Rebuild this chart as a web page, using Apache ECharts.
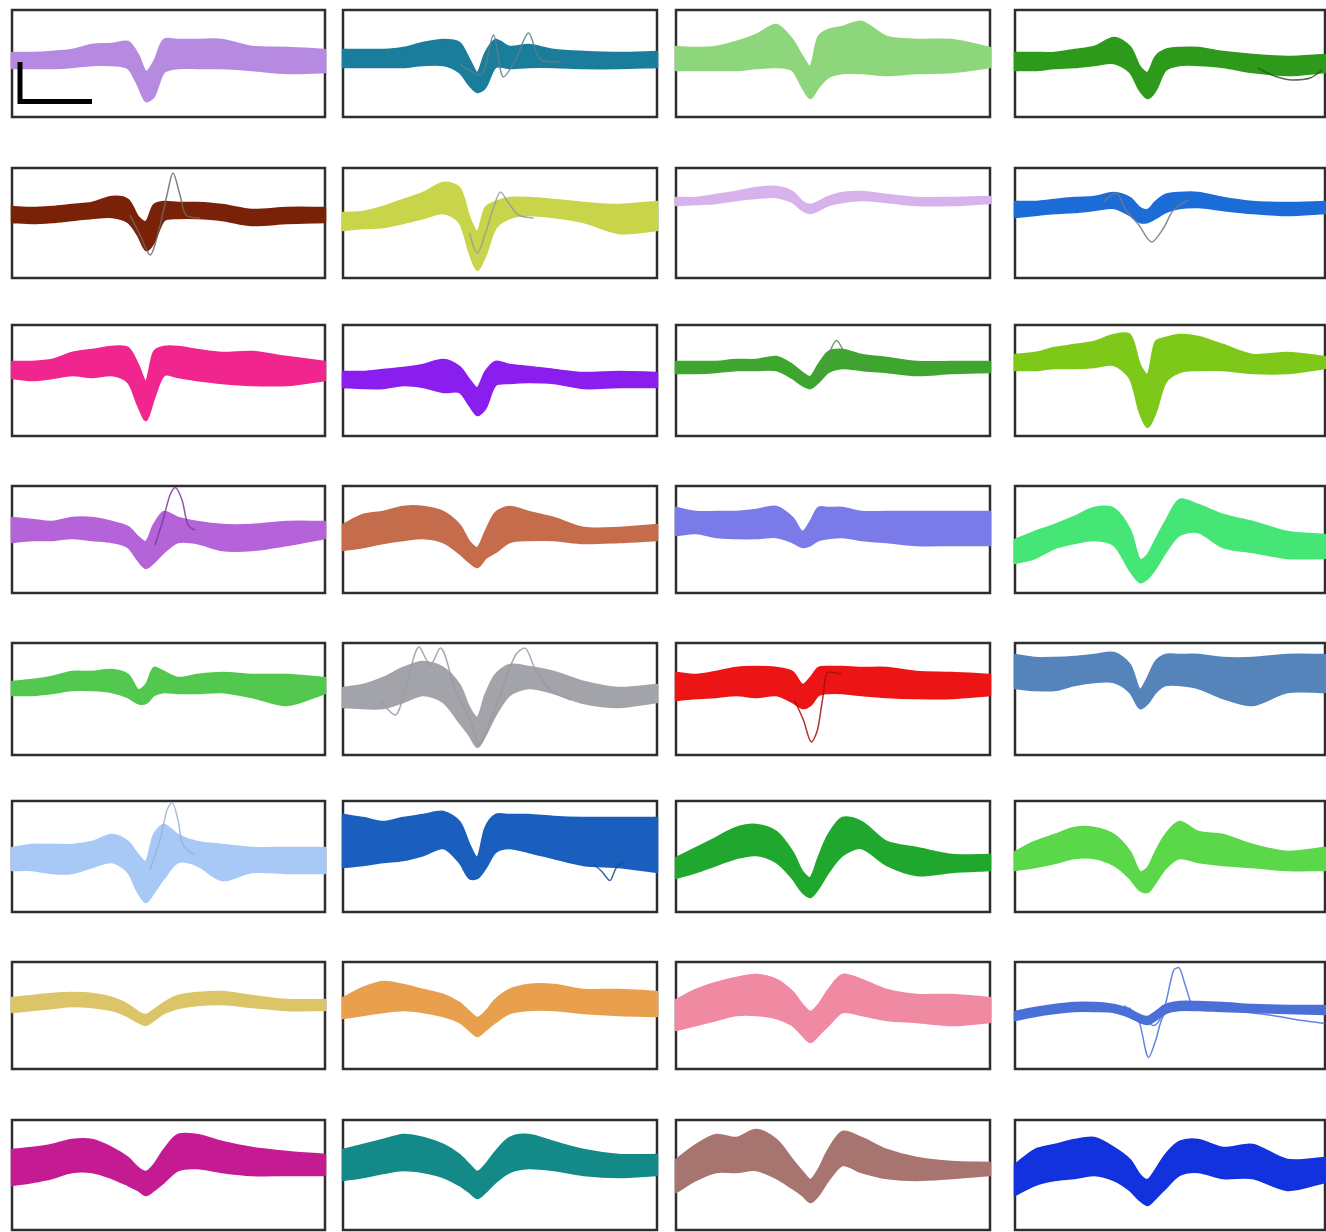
<!DOCTYPE html>
<html>
<head>
<meta charset="utf-8">
<script src="https://cdn.jsdelivr.net/npm/echarts/dist/echarts.min.js"></script>
<style>html,body{margin:0;padding:0;background:#fff}#chart{width:1326px;height:1232px}</style>
</head>
<body>
<div id="chart"></div>
<script>
// Sample times (relative units across each waveform window)
const sampleTimes = [0,20,40,60,80,100,116,126,134,142,152,166,185,210,240,275,313];

const panelColors = [
  "#b58ae0","#1b7d9c","#8ed67c","#2e9a1b",
  "#7a2208","#c8d54a","#d8b2ec","#1c6cd8",
  "#f0268e","#8a1eee","#3ea62e","#7dc818",
  "#b463d8","#c46c4c","#7a7ae8","#46e676",
  "#52c84e","#a3a3aa","#ec1414","#5584bb",
  "#a8c8f6","#1a5ebe","#20a82e","#5ad84a",
  "#dcc468","#e8a04e","#f08aa2","#4a70d8",
  "#c41a92","#148a88","#a87470","#1232de"
];

// Upper / lower envelopes of the overlaid waveforms (amplitude units)
const upper01 = [10.5,10.5,11.5,13.5,18.5,19.5,21.5,8.5,-8.5,1.5,23.5,23.5,23.5,23.5,16.5,15.5,13.5];
const lower01 = [-4.5,-4.5,-4.5,-3.5,-1.5,-1.5,-4.5,-21.5,-37.5,-32.5,-8.5,-4.5,-4.5,-4.5,-6.5,-9.5,-8.5];
const upper02 = [13.5,13.5,13.5,15.5,20.5,23.5,20.5,3.5,-9.5,10.5,23.5,16.5,18.5,13.5,11.5,10.5,11.5];
const lower02 = [-3.5,-3.5,-3.5,-3.5,-1.5,-1.5,-8.5,-21.5,-28.5,-23.5,-3.5,-4.5,-3.5,-3.5,-4.5,-4.5,-3.5];
const upper03 = [16.5,15.5,16.5,21.5,28.5,38.5,23.5,6.5,-3.5,26.5,33.5,36.5,41.5,26.5,23.5,23.5,15.5];
const lower03 = [-6.5,-6.5,-6.5,-6.5,-4.5,-3.5,-6.5,-23.5,-34.5,-23.5,-13.5,-9.5,-9.5,-11.5,-9.5,-8.5,-3.5];
const upper04 = [10.5,10.5,10.5,13.5,16.5,25.5,16.5,-3.5,-9.5,6.5,13.5,15.5,15.5,11.5,8.5,6.5,8.5];
const lower04 = [-6.5,-6.5,-4.5,-3.5,-1.5,0.5,-8.5,-26.5,-34.5,-26.5,-6.5,-1.5,-1.5,-3.5,-8.5,-11.5,-8.5];
const upper05 = [16,15,16,18,20,26,23,6,1,18,21,20,20,18,13,15,15];
const lower05 = [1,0,1,3,5,6,1,-12,-27,-19,3,5,5,3,-2,0,1];
const upper06 = [10,11,16,23,30,40,35,5,-9,15,21,25,25,23,20,18,21];
const lower06 = [-7,-5,-4,0,5,10,1,-29,-47,-32,-5,5,8,6,1,-10,-7];
const upper07 = [25,25,28,31,35,36,31,21,18,21,26,30,31,28,25,25,26];
const lower07 = [18,19,20,23,25,26,21,13,10,13,18,21,23,21,18,18,20];
const upper08 = [21,21,23,25,26,30,25,15,13,21,28,30,30,25,21,20,21];
const lower08 = [6,8,10,11,13,15,8,1,1,5,11,15,16,13,10,8,10];
const upper09 = [18.5,18.5,20.5,27.5,30.5,33.5,32.5,15.5,-1.5,28.5,33.5,33.5,30.5,27.5,28.5,23.5,18.5];
const lower09 = [2.5,0.5,2.5,5.5,3.5,5.5,-1.5,-24.5,-39.5,-17.5,5.5,3.5,0.5,-2.5,-4.5,-4.5,0.5];
const upper10 = [8.5,8.5,10.5,12.5,15.5,20.5,13.5,0.5,-7.5,8.5,18.5,15.5,13.5,10.5,7.5,8.5,7.5];
const lower10 = [-6.5,-7.5,-7.5,-4.5,-6.5,-11.5,-11.5,-24.5,-34.5,-27.5,-4.5,-2.5,-1.5,-2.5,-7.5,-6.5,-6.5];
const upper11 = [18.5,18.5,18.5,20.5,20.5,23.5,15.5,7.5,3.5,15.5,28.5,30.5,25.5,22.5,18.5,18.5,18.5];
const lower11 = [7.5,7.5,8.5,10.5,10.5,10.5,2.5,-4.5,-7.5,-1.5,8.5,12.5,10.5,8.5,5.5,7.5,8.5];
const upper12 = [25.5,27.5,32.5,35.5,38.5,45.5,45.5,15.5,5.5,38.5,42.5,45.5,43.5,35.5,25.5,27.5,23.5];
const lower12 = [10.5,10.5,12.5,12.5,13.5,15.5,2.5,-31.5,-46.5,-31.5,-1.5,8.5,10.5,10.5,7.5,7.5,12.5];
const upper13 = [21.5,19.5,17.5,21.5,21.5,17.5,12.5,2.5,-2.5,14.5,27.5,21.5,17.5,14.5,14.5,17.5,17.5];
const lower13 = [-2.5,-0.5,-0.5,1.5,-0.5,-2.5,-7.5,-20.5,-28.5,-22.5,-12.5,-2.5,-3.5,-10.5,-10.5,-5.5,1.5];
const upper14 = [14.5,24.5,27.5,32.5,32.5,27.5,14.5,-2.5,-8.5,7.5,26.5,32.5,27.5,21.5,11.5,11.5,14.5];
const lower14 = [-10.5,-7.5,-3.5,-0.5,1.5,-2.5,-13.5,-22.5,-27.5,-18.5,-12.5,-2.5,-0.5,-0.5,-3.5,-2.5,-0.5];
const upper15 = [31.5,27.5,27.5,27.5,29.5,32.5,21.5,7.5,17.5,31.5,31.5,31.5,27.5,27.5,27.5,27.5,27.5];
const lower15 = [4.5,6.5,2.5,1.5,1.5,2.5,-2.5,-7.5,-5.5,-0.5,1.5,2.5,-0.5,-2.5,-5.5,-5.5,-5.5];
const upper16 = [-0.5,7.5,14.5,22.5,31.5,30.5,9.5,-20.5,-15.5,-0.5,17.5,39.5,34.5,24.5,17.5,7.5,4.5];
const lower16 = [-23.5,-18.5,-8.5,-3.5,-0.5,-5.5,-30.5,-42.5,-38.5,-28.5,-12.5,4.5,7.5,-7.5,-12.5,-18.5,-18.5];
const upper17 = [17,19,22,27,27,29,24,9,14,31,27,21,24,26,24,24,21];
const lower17 = [4,4,6,9,9,7,2,-4,-4,4,7,6,6,7,2,-6,6];
const upper18 = [11,14,21,31,37,31,14,-9,-19,4,24,34,32,27,17,11,14];
const lower18 = [-8,-9,-9,-3,4,-3,-23,-36,-48,-36,-16,4,11,6,-4,-8,-3];
const upper19 = [26,24,27,31,32,31,27,14,21,31,32,32,31,31,27,26,24];
const lower19 = [-1,1,2,4,2,4,-3,-9,-6,4,6,6,4,2,1,1,4];
const upper20 = [44,41,41,42,44,46,34,9,21,37,44,44,44,41,41,44,44];
const lower20 = [11,9,9,14,17,17,7,-9,-4,7,14,14,11,1,-6,7,7];
const upper21 = [8.5,11.5,11.5,11.5,14.5,21.5,14.5,1.5,-5.5,21.5,31.5,21.5,14.5,11.5,8.5,8.5,8.5];
const lower21 = [-13.5,-13.5,-16.5,-16.5,-10.5,-5.5,-15.5,-35.5,-45.5,-35.5,-21.5,-5.5,-8.5,-23.5,-15.5,-16.5,-16.5];
const upper22 = [41.5,38.5,34.5,38.5,41.5,44.5,34.5,11.5,-1.5,28.5,41.5,41.5,41.5,39.5,38.5,38.5,38.5];
const lower22 = [-10.5,-8.5,-5.5,-3.5,1.5,8.5,-5.5,-21.5,-21.5,-11.5,4.5,8.5,4.5,-1.5,-8.5,-10.5,-15.5];
const upper23 = [-1.5,8.5,18.5,28.5,31.5,24.5,4.5,-15.5,-21.5,-1.5,21.5,38.5,34.5,14.5,8.5,1.5,1.5];
const lower23 = [-21.5,-15.5,-8.5,-1.5,1.5,-5.5,-21.5,-35.5,-40.5,-31.5,-15.5,1.5,8.5,-8.5,-18.5,-15.5,-13.5];
const upper24 = [4.5,14.5,21.5,28.5,28.5,21.5,4.5,-15.5,-11.5,4.5,21.5,34.5,24.5,21.5,11.5,4.5,8.5];
const lower24 = [-13.5,-10.5,-6.5,-1.5,-1.5,-8.5,-21.5,-33.5,-35.5,-25.5,-11.5,-1.5,-5.5,-8.5,-10.5,-13.5,-13.5];
const upper25 = [17.5,19.5,21.5,22.5,21.5,17.5,10.5,3.5,0.5,5.5,12.5,19.5,22.5,23.5,19.5,15.5,15.5];
const lower25 = [3.5,5.5,7.5,9.5,8.5,5.5,-0.5,-6.5,-9.5,-4.5,2.5,7.5,10.5,11.5,8.5,5.5,5.5];
const upper26 = [17.5,27.5,33.5,30.5,25.5,20.5,12.5,3.5,-2.5,3.5,15.5,25.5,30.5,30.5,25.5,25.5,23.5];
const lower26 = [-2.5,0.5,3.5,5.5,3.5,-0.5,-6.5,-14.5,-20.5,-14.5,-6.5,2.5,5.5,5.5,2.5,0.5,-0.5];
const upper27 = [15.5,25.5,32.5,37.5,40.5,35.5,23.5,10.5,3.5,10.5,25.5,40.5,35.5,25.5,20.5,20.5,17.5];
const lower27 = [-14.5,-9.5,-4.5,0.5,0.5,-2.5,-9.5,-19.5,-26.5,-19.5,-9.5,3.5,0.5,-4.5,-6.5,-9.5,-6.5];
const upper28 = [3.5,7.5,10.5,12.5,12.5,10.5,5.5,0.5,-1.5,3.5,10.5,13.5,13.5,12.5,10.5,9.5,9.5];
const lower28 = [-4.5,-0.5,2.5,4.5,4.5,3.5,-1.5,-6.5,-8.5,-4.5,2.5,5.5,5.5,4.5,3.5,2.5,1.5];
const upper29 = [25,27,30,35,35,27,17,7,3,10,25,40,40,33,27,23,20];
const lower29 = [-10,-7,-3,3,3,-3,-10,-15,-20,-15,-7,5,7,3,0,0,0];
const upper30 = [25,30,35,40,37,30,20,10,3,10,23,37,40,33,25,20,20];
const lower30 = [-5,-2,2,5,3,-2,-10,-17,-23,-17,-7,3,7,5,0,-2,0];
const upper31 = [15,30,40,37,45,35,15,3,-5,5,25,43,37,25,17,13,12];
const lower31 = [-17,-5,3,3,5,-3,-13,-20,-27,-20,-5,10,3,-3,-5,-3,0];
const upper32 = [10,25,30,35,37,27,15,0,-5,5,20,33,35,27,30,15,17];
const lower32 = [-20,-10,-5,-3,0,-5,-15,-25,-30,-23,-13,0,3,-3,-3,-15,-7];

// Individual outlying traces: [time, amplitude]
const outlier02 = [[117,-1.5],[137,-11.5],[150,28.5],[160,-13.5],[172,3.5],[185,30.5],[197,3.5],[217,1.5]];
const outlier04 = [[245,-4.5],[262,-12.5],[280,-16.5],[298,-14.5],[310,-6.5]];
const outlier05 = [[118,8],[128,-12],[138,-32],[148,-2],[155,28],[161,50],[168,28],[174,8],[188,5]];
const outlier06 = [[126,-10],[134,-30],[142,-10],[150,15],[157,31],[165,20],[175,8],[190,5]];
const outlier08 = [[90,22],[102,30],[112,13],[125,-2],[138,-19],[150,-5],[160,13],[175,23]];
const outlier11 = [[140,0],[150,20],[160,40],[170,25],[182,15],[195,12]];
const outlier13 = [[143,-5.5],[151,19.5],[158,44.5],[163,52],[170,39.5],[176,14.5],[183,9.5]];
const outlier18 = [[37,-1],[52,-16],[62,9],[76,52],[87,34],[97,51],[112,9],[127,-21],[135,-46],[147,-21],[162,19],[172,44],[181,51],[192,29],[207,9],[227,-1]];
const outlier19 = [[118,-1],[127,-21],[135,-43],[141,-31],[146,-1],[152,27],[165,25]];
const outlier21 = [[138,-13.5],[148,16.5],[155,46.5],[160,54],[166,36.5],[171,11.5],[183,1.5]];
const outlier22 = [[250,-8],[258,-15],[266,-24],[272,-12],[280,-5]];
const outlier28a = [[110,10],[125,0],[140,-10],[150,5],[160,45],[165,48],[172,30],[180,10],[195,8],[220,5],[260,0],[290,-5],[313,-8]];
const outlier28b = [[115,8],[125,-5],[135,-42],[142,-25],[150,0],[165,10]];

// Scale bar (drawn in first panel)
const scaleBar = [[8,1.5],[8,-38],[80,-38]];

const uppers = [upper01,upper02,upper03,upper04,upper05,upper06,upper07,upper08,upper09,upper10,upper11,upper12,upper13,upper14,upper15,upper16,
  upper17,upper18,upper19,upper20,upper21,upper22,upper23,upper24,upper25,upper26,upper27,upper28,upper29,upper30,upper31,upper32];
const lowers = [lower01,lower02,lower03,lower04,lower05,lower06,lower07,lower08,lower09,lower10,lower11,lower12,lower13,lower14,lower15,lower16,
  lower17,lower18,lower19,lower20,lower21,lower22,lower23,lower24,lower25,lower26,lower27,lower28,lower29,lower30,lower31,lower32];
const outliers = [
  {panel:1, data:outlier02, color:"#5b7f8a"},
  {panel:3, data:outlier04, color:"#2a5a22"},
  {panel:4, data:outlier05, color:"#6a6a6a"},
  {panel:5, data:outlier06, color:"#9a9a9a"},
  {panel:7, data:outlier08, color:"#707a88"},
  {panel:10, data:outlier11, color:"#5f8a58"},
  {panel:12, data:outlier13, color:"#7a3a9a"},
  {panel:17, data:outlier18, color:"#9a9aa2"},
  {panel:18, data:outlier19, color:"#a01010"},
  {panel:20, data:outlier21, color:"#9ab0d8"},
  {panel:21, data:outlier22, color:"#1a4a90"},
  {panel:27, data:outlier28a, color:"#4a70d8"},
  {panel:27, data:outlier28b, color:"#4a70d8"}
];

// Layout
const colLeft = [12,343,676,1015];
const colWidth = [313,314,314,310];
const rowTop = [10,168,325,486,643,801,962,1120];
const rowHeight = [107,110,111,107,112,111,107,110];

const grids = [], xAxes = [], yAxes = [], series = [];
for (let p = 0; p < 32; p++) {
  const r = Math.floor(p / 4), c = p % 4;
  const h = rowHeight[r];
  grids.push({left: colLeft[c], top: rowTop[r], width: colWidth[c], height: h,
    show: true, borderColor: '#2e2e2e', borderWidth: 2.5, backgroundColor: '#fff'});
  xAxes.push({gridIndex: p, type: 'value', min: 0, max: 313, show: false});
  yAxes.push({gridIndex: p, type: 'value', min: -h / 2, max: h / 2, show: false});
  const U = uppers[p], L = lowers[p], col = panelColors[p];
  series.push({
    type: 'custom', xAxisIndex: p, yAxisIndex: p, silent: true, z: 2,
    data: [[sampleTimes[0], U[0], L[0]]],
    renderItem: function (params, api) {
      const up = U.map((v, k) => api.coord([sampleTimes[k], v]));
      const lo = L.map((v, k) => api.coord([sampleTimes[k], v])).reverse();
      // repeat the four corner vertices so the smoothed outline keeps straight ends
      const pts = [up[0]].concat(up, [up[up.length - 1]], [lo[0]], lo, [lo[lo.length - 1]]);
      return {type: 'polygon', shape: {points: pts, smooth: 0.3},
        style: {fill: col, stroke: col, lineWidth: 2.5, lineJoin: 'round'}};
    }
  });
}
outliers.forEach(o => {
  series.push({type: 'line', xAxisIndex: o.panel, yAxisIndex: o.panel, data: o.data,
    showSymbol: false, symbol: 'none', smooth: 0.3, clip: false, silent: true, z: 3,
    lineStyle: {color: o.color, width: 1.5, opacity: 0.85}});
});
series.push({type: 'line', xAxisIndex: 0, yAxisIndex: 0, data: scaleBar,
  symbol: 'none', clip: false, silent: true, z: 5,
  lineStyle: {color: '#000', width: 5, cap: 'butt', join: 'miter'}});

const chart = echarts.init(document.getElementById('chart'), null, {renderer: 'canvas'});
chart.setOption({
  animation: false,
  backgroundColor: '#fff',
  grid: grids, xAxis: xAxes, yAxis: yAxes, series: series
});
</script>
</body>
</html>
